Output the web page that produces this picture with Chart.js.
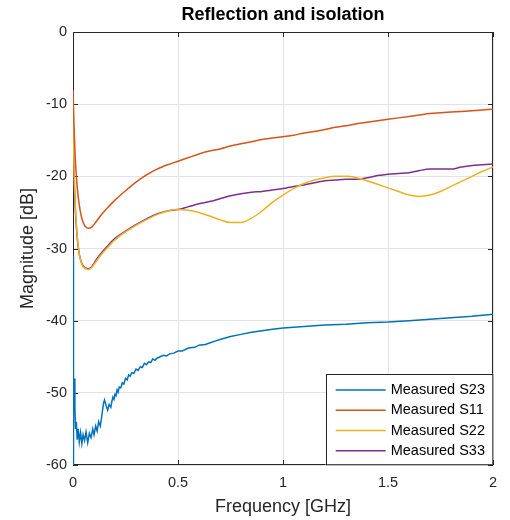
<!DOCTYPE html>
<html>
<head>
<meta charset="utf-8">
<script src="https://cdn.jsdelivr.net/npm/chart.js@4.4.1/dist/chart.umd.min.js"></script>
<style>
  html, body { margin: 0; padding: 0; background: #fff; }
  #wrap { width: 510px; height: 520px; }
</style>
</head>
<body>
<div id="wrap"><canvas id="reflChart" width="510" height="520"></canvas></div>
<script>
// isolation S23, measured (noisy trace)
const freqIso = [0, 0.001, 0.002, 0.004, 0.006, 0.009, 0.012, 0.016, 0.02, 0.025, 0.03, 0.036,
    0.042, 0.048, 0.055, 0.062, 0.07, 0.078, 0.086, 0.094, 0.1, 0.108, 0.115, 0.122, 0.13, 0.138,
    0.145, 0.15, 0.158, 0.165, 0.172, 0.18, 0.185, 0.19, 0.195, 0.2, 0.205, 0.21, 0.215, 0.22, 0.228,
    0.235, 0.242, 0.25, 0.258, 0.265, 0.272, 0.28, 0.29, 0.3, 0.31, 0.32, 0.33, 0.34, 0.35, 0.36,
    0.37, 0.38, 0.39, 0.4, 0.415, 0.43, 0.445, 0.46, 0.48, 0.5, 0.52, 0.55, 0.58, 0.6, 0.63, 0.65,
    0.68, 0.7, 0.75, 0.8, 0.85, 0.9, 0.95, 1.0, 1.1, 1.2, 1.3, 1.4, 1.5, 1.6, 1.7, 1.8, 1.9, 2.0];
const s23 = [-31, -45, -60, -50, -48, -52, -55, -54, -56.5, -55, -56.8, -55.5,
    -57, -55.8, -56.6, -55.4, -56.9, -55.6, -56.2, -55, -55.8, -54.6, -55.3, -54, -54.6, -53,
    -51.5, -51, -51.8, -52.4, -51.6, -52, -51.2, -50.6, -50.9, -50.2, -50.4, -49.6, -49.9, -49.2, -49.3,
    -48.6, -48.8, -48, -48.2, -47.5, -47.7, -47.2, -47.3, -46.7, -46.9, -46.4, -46.5, -45.9, -46.1, -45.7,
    -45.8, -45.3, -45.5, -45.2, -45.0, -44.8, -44.9, -44.6, -44.5, -44.2, -44.2, -43.8, -43.7, -43.4, -43.3, -43.1,
    -42.8, -42.6, -42.2, -41.9, -41.6, -41.4, -41.2, -41.0, -40.8, -40.6, -40.5, -40.3, -40.2, -40.0, -39.8, -39.6, -39.4, -39.1];

// reflection S11 / S22 / S33
const freqRefl = [0, 0.005, 0.01, 0.02, 0.03, 0.04, 0.05, 0.06, 0.075, 0.09, 0.11, 0.13, 0.16, 0.2,
    0.25, 0.3, 0.35, 0.4, 0.45, 0.5, 0.55, 0.6, 0.65, 0.7, 0.75, 0.8, 0.85, 0.9, 0.95, 1.0, 1.05,
    1.1, 1.15, 1.2, 1.25, 1.3, 1.35, 1.4, 1.45, 1.5, 1.55, 1.6, 1.65, 1.7, 1.75, 1.8, 1.85, 1.9, 1.95, 2.0];
const s11 = [-8, -13, -17, -21.5, -24, -25.6, -26.5, -27, -27.2, -27, -26.3, -25.5, -24.5, -23.3,
    -22, -20.8, -19.8, -19, -18.4, -17.9, -17.4, -16.9, -16.5, -16.2, -15.8, -15.5, -15.2, -14.9, -14.7, -14.5, -14.3,
    -14.0, -13.8, -13.5, -13.2, -13.0, -12.7, -12.5, -12.3, -12.1, -11.9, -11.7, -11.5, -11.3, -11.2, -11.1, -11.0, -10.9, -10.8, -10.7];
const s22 = [-11, -19, -23.5, -28.3, -30.8, -32, -32.6, -32.8, -32.9, -32.6, -31.8, -31, -30, -28.8,
    -27.7, -26.8, -26, -25.3, -24.8, -24.6, -24.7, -25.0, -25.5, -26.0, -26.4, -26.4, -25.8, -24.8, -23.6, -22.6, -21.7,
    -21.0, -20.5, -20.2, -20.0, -20.0, -20.2, -20.6, -21.1, -21.6, -22.1, -22.6, -22.8, -22.6, -22.1, -21.4, -20.7, -20.0, -19.3, -18.7];
const s33 = [-14, -20, -24, -28.5, -30.8, -31.9, -32.5, -32.7, -32.8, -32.5, -31.6, -30.8, -29.8, -28.6,
    -27.6, -26.7, -25.9, -25.2, -24.8, -24.6, -24.2, -23.8, -23.5, -23.1, -22.7, -22.4, -22.2, -22.1, -21.9, -21.7, -21.4,
    -21.2, -20.9, -20.6, -20.5, -20.4, -20.4, -20.2, -19.9, -19.7, -19.6, -19.5, -19.2, -19.0, -19.0, -19.0, -18.7, -18.5, -18.4, -18.3];

const seriesNames = ['Measured S23', 'Measured S11', 'Measured S22', 'Measured S33'];
const xTicks = [0, 0.5, 1, 1.5, 2];
const yTicks = [0, -10, -20, -30, -40, -50, -60];

function toPoints(xs, ys) {
    return xs.map((x, i) => ({x: x, y: ys[i]}));
}

const axisColor = '#262626';
const fontFam = '"Liberation Sans", Arial, Helvetica, sans-serif';

// MATLAB-like box, inward ticks
const boxPlugin = {
    id: 'boxPlugin',
    beforeDatasetsDraw(chart) {
        const {ctx, chartArea: a, scales} = chart;
        ctx.save();
        ctx.strokeStyle = axisColor;
        ctx.lineWidth = 1;
        ctx.strokeRect(a.left + 0.5, a.top + 0.5, a.right - a.left - 1, a.bottom - a.top - 1);
        const tl = 5;
        ctx.beginPath();
        xTicks.forEach(v => {
            const px = Math.round(scales.x.getPixelForValue(v)) + 0.5;
            ctx.moveTo(px, a.bottom); ctx.lineTo(px, a.bottom - tl);
            ctx.moveTo(px, a.top); ctx.lineTo(px, a.top + tl);
        });
        yTicks.forEach(v => {
            const py = Math.round(scales.y.getPixelForValue(v)) + 0.5;
            ctx.moveTo(a.left, py); ctx.lineTo(a.left + tl, py);
            ctx.moveTo(a.right, py); ctx.lineTo(a.right - tl, py);
        });
        ctx.stroke();
        ctx.restore();
    }
};

// legend box in the lower right corner of the axes
const boxLegend = {
    id: 'boxLegend',
    afterDraw(chart) {
        const {ctx, chartArea: a} = chart;
        const ds = chart.data.datasets;
        ctx.save();
        ctx.font = '14.5px ' + fontFam;
        let tw = 0;
        ds.forEach(d => { tw = Math.max(tw, ctx.measureText(d.label).width); });
        const rowH = 20.3, padTop = 5, lineLen = 50;
        const w = 10 + lineLen + 5 + tw + 8;
        const h = padTop * 2 + rowH * ds.length;
        const x0 = a.right - w, y0 = a.bottom - h;
        ctx.fillStyle = '#fff';
        ctx.fillRect(x0, y0, w, h);
        ctx.strokeStyle = axisColor;
        ctx.lineWidth = 1;
        ctx.strokeRect(Math.round(x0) + 0.5, Math.round(y0) + 0.5, w - 1, h - 1);
        ctx.textBaseline = 'middle';
        ctx.textAlign = 'left';
        ds.forEach((d, i) => {
            const cy = y0 + padTop + rowH * i + rowH / 2 + 1;
            ctx.strokeStyle = d.borderColor;
            ctx.lineWidth = 1.5;
            ctx.beginPath();
            ctx.moveTo(x0 + 10, cy); ctx.lineTo(x0 + 10 + lineLen, cy);
            ctx.stroke();
            ctx.fillStyle = '#000';
            ctx.fillText(d.label, x0 + 10 + lineLen + 5, cy);
        });
        ctx.restore();
    }
};

function makeChart() {
    const ctx = document.getElementById('reflChart').getContext('2d');
    const common = {pointRadius: 0, borderWidth: 1.5, fill: false};
    new Chart(ctx, {
        type: 'line',
        data: {
            datasets: [
                Object.assign({label: seriesNames[0], data: toPoints(freqIso, s23),
                    borderColor: '#0072BD', tension: 0}, common),
                Object.assign({label: seriesNames[1], data: toPoints(freqRefl, s11),
                    borderColor: '#D95319', cubicInterpolationMode: 'monotone'}, common),
                Object.assign({label: seriesNames[2], data: toPoints(freqRefl, s22),
                    borderColor: '#EDB120', cubicInterpolationMode: 'monotone'}, common),
                Object.assign({label: seriesNames[3], data: toPoints(freqRefl, s33),
                    borderColor: '#7E2F8E', cubicInterpolationMode: 'monotone'}, common)
            ]
        },
        options: {
            responsive: false,
            animation: false,
            layout: {padding: {left: 0, right: 17, top: 0, bottom: 0}},
            plugins: {
                legend: {display: false},
                tooltip: {enabled: false},
                title: {
                    display: true,
                    text: 'Reflection and isolation',
                    fullSize: false,
                    color: '#000',
                    font: {family: fontFam, size: 18, weight: 'bold'},
                    padding: {top: 4, bottom: 6.4}
                }
            },
            scales: {
                x: {
                    type: 'linear',
                    min: 0, max: 2,
                    afterBuildTicks: s => { s.ticks = xTicks.map(v => ({value: v})); },
                    afterFit: s => { s.height = 55; },
                    grid: {color: '#e3e3e3', drawTicks: false},
                    border: {display: false},
                    ticks: {color: axisColor, padding: 9, maxRotation: 0,
                        callback: v => String(v),
                        font: {family: fontFam, size: 14.5}},
                    title: {display: true, text: 'Frequency [GHz]', color: axisColor,
                        font: {family: fontFam, size: 18}, padding: {top: 0, bottom: 2}}
                },
                y: {
                    type: 'linear',
                    min: -60, max: 0,
                    afterBuildTicks: s => { s.ticks = yTicks.map(v => ({value: v})); },
                    afterFit: s => { s.width = 73; },
                    grid: {color: '#e3e3e3', drawTicks: false},
                    border: {display: false},
                    ticks: {color: axisColor, padding: 6,
                        callback: v => String(v),
                        font: {family: fontFam, size: 14.5}},
                    title: {display: true, text: 'Magnitude [dB]', color: axisColor,
                        font: {family: fontFam, size: 18}, padding: {top: 17, bottom: 0}}
                }
            }
        },
        plugins: [boxPlugin, boxLegend]
    });
}

makeChart();
</script>
</body>
</html>
